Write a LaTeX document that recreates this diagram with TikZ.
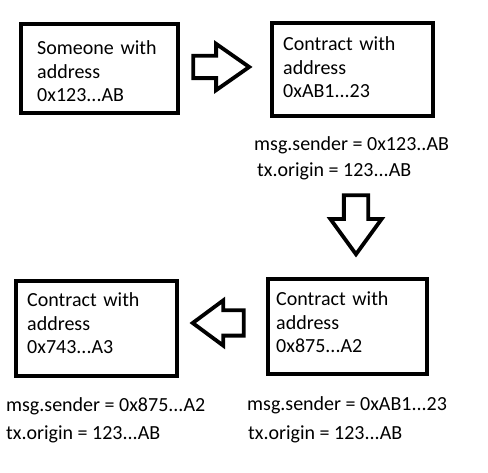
\documentclass[tikz,border=0pt]{standalone}
\usepackage{fontspec}
\setmainfont{Carlito}
\usetikzlibrary{shapes.arrows}
\tikzset{
  box/.style = {rectangle, draw=black, line width=4pt, inner sep=0pt},% plain box
  txt/.style = {inner sep=0pt, anchor=base west, align=left, text width=150pt,
    font=\fontsize{20}{23.5}\selectfont},% text in a box
  lbl/.style = {inner sep=0pt, anchor=base west,
    font=\fontsize{20}{24}\selectfont},% line under a box
  bigarrow/.style = {single arrow, draw=black, line width=3.8pt, inner sep=0pt,
    text depth=0pt, single arrow head indent=0pt, anchor=tip}% outlined block arrow
}
\begin{document}
\begin{tikzpicture}[x=1pt,y=-1pt]
\useasboundingbox (0,0) rectangle (488,473);
% boxes
\node [box, minimum width=157pt, minimum height=89pt] (b1) at (99.5,68.5) {};
\node [box, minimum width=161pt, minimum height=93pt] (b2) at (352.5,69.5) {};
\node [box, minimum width=159pt, minimum height=95pt] (b3) at (347.5,326.5) {};
\node [box, minimum width=161pt, minimum height=95pt] (b4) at (96.5,328.5) {};
\node [txt] (t1) at (37,55) {Someone with\\address\\0x123...AB};
\node [txt] (t2) at (283,51) {Contract with\\address\\0xAB1...23};
\node [txt] (t3) at (276,306) {Contract with\\address\\0x875...A2};
\node [txt] (t4) at (27,307) {Contract with\\address\\0x743...A3};
% block arrows
\node [bigarrow, text height=18.5pt, minimum height=56pt, minimum width=42.5pt,
  single arrow head extend=12pt, single arrow tip angle=70] (a1) at (252.5,67) {};
\node [bigarrow, shape border rotate=270, text width=20.5pt, text height=0pt,
  minimum height=59pt, minimum width=47.5pt, single arrow head extend=13.5pt,
  single arrow tip angle=72] (a2) at (356,257.5) {};
\node [bigarrow, shape border rotate=180, text height=21.5pt, minimum height=51pt,
  minimum width=41.5pt, single arrow head extend=10pt,
  single arrow tip angle=73] (a3) at (189.5,323) {};
% sender and origin
\node [lbl] (s2) at (254,151) {msg.sender = 0x123..AB};
\node [lbl] (o2) at (257,177) {tx.origin = 123...AB};
\node [lbl] (s3) at (247,411) {msg.sender = 0xAB1...23};
\node [lbl] (o3) at (248,440) {tx.origin = 123...AB};
\node [lbl] (s4) at (6,412) {msg.sender = 0x875...A2};
\node [lbl] (o4) at (6,440) {tx.origin = 123...AB};
\end{tikzpicture}
\end{document}
